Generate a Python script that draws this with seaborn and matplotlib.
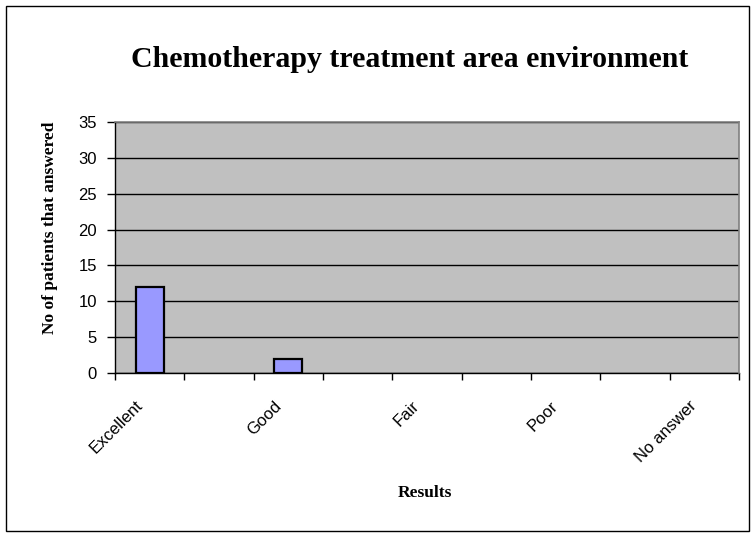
import matplotlib
matplotlib.use("Agg")
import matplotlib.pyplot as plt
from matplotlib.patches import Rectangle
from matplotlib.transforms import ScaledTranslation
import seaborn as sns

# survey answers, 9 category slots (Excel only labels every other one)
SLOTS = list(range(9))
TICK_LABELS = ["Excellent", "", "Good", "", "Fair", "", "Poor", "", "No answer"]
COUNTS = [12, 0, 2, 0, 0, 0, 0, 0, 0]
Y_TICKS = [0, 5, 10, 15, 20, 25, 30, 35]

TITLE = "Chemotherapy treatment area environment"
XLABEL = "Results"
YLABEL = "No of patients that answered"

BAR = "#9999FF"
PLOT_BG = "#C0C0C0"
FRAME = "#808080"
SERIF = "Liberation Serif"
SANS = "Liberation Sans"

W, H = 754, 537


def main():
    sns.set_theme(style="white")
    plt.rcParams["font.family"] = [SANS, "DejaVu Sans"]
    plt.rcParams.update({
        "text.color": "black",
        "axes.labelcolor": "black",
        "xtick.color": "black",
        "ytick.color": "black",
    })

    fig = plt.figure(figsize=(W / 100, H / 100), dpi=100)
    fig.patch.set_facecolor("white")
    ax = fig.add_axes([115 / W, 1 - 373 / H, 624 / W, 251 / H])
    ax.set_facecolor(PLOT_BG)

    sns.barplot(x=SLOTS, y=COUNTS, ax=ax, color=BAR, width=0.4,
                edgecolor="black", linewidth=1.6, saturation=1, zorder=3)
    # Excel draws nothing for empty categories
    for bar in ax.patches:
        if bar.get_height() == 0:
            bar.set_visible(False)

    ax.set_xlim(-0.5, len(SLOTS) - 0.5)
    ax.set_ylim(0, 35)
    ax.set_yticks(Y_TICKS)
    ax.yaxis.grid(True, color="black", linewidth=1.0, zorder=1)
    ax.set_axisbelow(True)

    # category labels sit a bit left of the slot centre, like Excel does
    ax.set_xticks([s - 0.5 for s in SLOTS] + [len(SLOTS) - 0.5])
    ax.set_xticklabels([])
    ax.tick_params(axis="x", length=5, width=1, color="black",
                   direction="out", bottom=True)
    offset = ScaledTranslation(-15 / 100, -25 / 100, fig.dpi_scale_trans)
    for slot, lab in zip(SLOTS, TICK_LABELS):
        ax.text(slot, 0, lab, transform=ax.get_xaxis_transform() + offset,
                rotation=45, ha="right", va="top", rotation_mode="anchor",
                fontsize=12, family=SANS, color="black")

    ax.tick_params(axis="y", length=6, width=1, color="black", direction="out",
                   left=True, labelsize=12, pad=7)
    for lab in ax.get_yticklabels():
        lab.set_family(SANS)

    for side in ["left", "bottom"]:
        ax.spines[side].set_color("black")
        ax.spines[side].set_linewidth(1.0)
    for side in ["top", "right"]:
        ax.spines[side].set_color(FRAME)
        ax.spines[side].set_linewidth(1.2)
        ax.spines[side].set_zorder(4)

    ax.set_xlabel(XLABEL, family=SERIF, fontweight="bold", fontsize=12.5)
    ax.xaxis.set_label_coords((425 - 115) / 624, (373 - 493) / 251)
    ax.xaxis.label.set_va("center")
    ax.set_ylabel(YLABEL, family=SERIF, fontweight="bold", fontsize=12.5)
    ax.yaxis.set_label_coords((50 - 115) / 624, (373 - 228) / 251)
    ax.yaxis.label.set_va("center")

    fig.text(410 / W, 1 - 67 / H, TITLE, ha="center", va="baseline",
             family=SERIF, fontweight="bold", fontsize=21.5)

    fig.patches.append(Rectangle((6 / W, 1 - 531 / H), 743 / W, 525 / H,
                                 transform=fig.transFigure, fill=False,
                                 edgecolor="black", linewidth=1.0))

    fig.savefig("out.png", dpi=100, facecolor="white")


main()
